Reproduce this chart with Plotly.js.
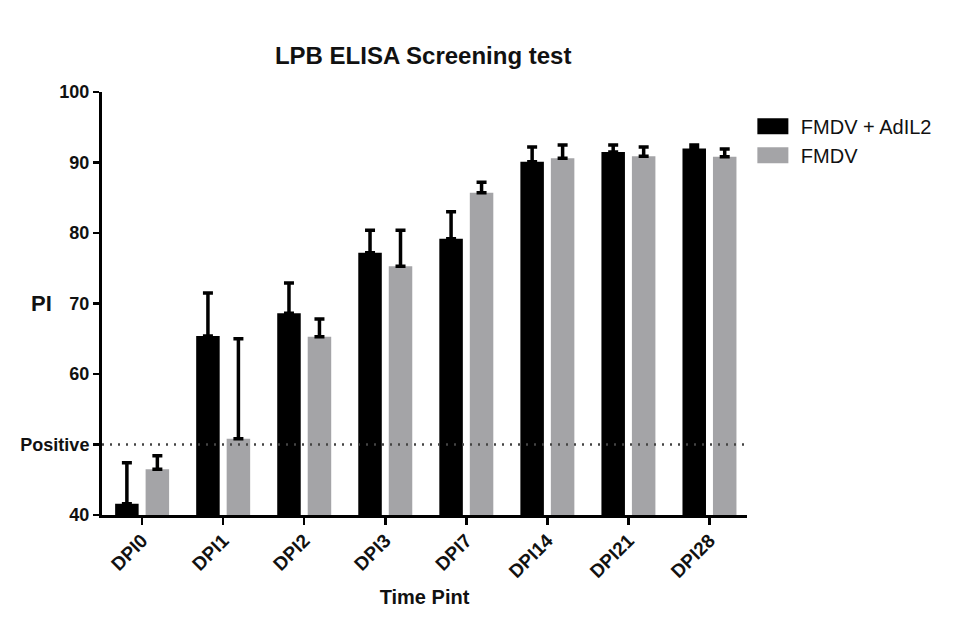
<!DOCTYPE html>
<html>
<head>
<meta charset="utf-8">
<script src="https://cdn.plot.ly/plotly-3.0.1.min.js"></script>
<style>html,body{margin:0;padding:0;background:#fff;}#chart{width:959px;height:635px;}</style>
</head>
<body>
<div id="chart"></div>
<script>
const categories = ["DPI0","DPI1","DPI2","DPI3","DPI7","DPI14","DPI21","DPI28"];
const seriesNames = ["FMDV + AdIL2","FMDV"];
const adil2Values = [41.6, 65.4, 68.6, 77.2, 79.2, 90.1, 91.5, 92.0];
const adil2Errors = [5.8, 6.1, 4.3, 3.2, 3.8, 2.1, 1.0, 0.5];
const fmdvValues = [46.5, 50.8, 65.3, 75.3, 85.7, 90.6, 90.9, 90.8];
const fmdvErrors = [1.9, 14.2, 2.5, 5.1, 1.5, 1.9, 1.3, 1.1];
const yTickVals = [40, 50, 60, 70, 80, 90, 100];
const yTickText = ["40", "Positive", "60", "70", "80", "90", "100"];
const positiveCutoff = 50;

const font = "Liberation Sans, Arial, sans-serif";
const zeros = categories.map(() => 0);

const traces = [
  {
    type: "bar", name: seriesNames[0], x: categories, y: adil2Values,
    marker: {color: "#000000", line: {width: 0}},
    width: 0.29, offset: -0.333,
    error_y: {type: "data", symmetric: false, array: adil2Errors, arrayminus: zeros,
              color: "#000000", thickness: 3.5, width: 5}
  },
  {
    type: "bar", name: seriesNames[1], x: categories, y: fmdvValues,
    marker: {color: "#a4a4a7", line: {width: 0}},
    width: 0.29, offset: 0.043,
    error_y: {type: "data", symmetric: false, array: fmdvErrors, arrayminus: zeros,
              color: "#000000", thickness: 3.5, width: 5}
  }
];

const layout = {
  width: 959, height: 635,
  margin: {l: 102, r: 212, t: 92, b: 120},
  paper_bgcolor: "#ffffff", plot_bgcolor: "#ffffff",
  barmode: "group",
  showlegend: true,
  title: {text: "<b>LPB ELISA Screening test</b>", xref: "paper", x: 0.498, xanchor: "center",
          yref: "container", y: 0.913, yanchor: "middle",
          font: {family: font, size: 24, color: "#111"}},
  xaxis: {
    type: "category", range: [-0.495, 7.463],
    showgrid: false, zeroline: false,
    showline: true, linecolor: "#000", linewidth: 3,
    ticks: "outside", ticklen: 7, tickwidth: 2.5, tickcolor: "#000",
    tickangle: -45, ticklabelstandoff: -3,
    tickfont: {family: font, size: 19, color: "#111", weight: "bold"},
    title: {text: "<b>Time Pint</b>", font: {family: font, size: 20, color: "#111"}, standoff: 9}
  },
  yaxis: {
    range: [40, 100],
    tickvals: yTickVals, ticktext: yTickText,
    showgrid: false, zeroline: false,
    showline: true, linecolor: "#000", linewidth: 3,
    ticks: "outside", ticklen: 6, tickwidth: 2.5, tickcolor: "#000",
    tickfont: {family: font, size: 18, color: "#111", weight: "bold"}
  },
  legend: {
    x: 1.006, y: 0.965, xanchor: "left", yanchor: "top",
    font: {family: font, size: 20, color: "#111"},
    tracegroupgap: 0, itemwidth: 40, bgcolor: "rgba(0,0,0,0)"
  },
  shapes: [
    {type: "line", xref: "paper", x0: 0, x1: 1, yref: "y", y0: positiveCutoff, y1: positiveCutoff,
     line: {color: "#444", width: 2.5, dash: "2px,6px"}}
  ],
  annotations: [
    {text: "<b>PI</b>", xref: "paper", yref: "paper", x: -0.094, y: 0.5, xanchor: "center", yanchor: "middle",
     showarrow: false, font: {family: font, size: 22, color: "#111"}}
  ]
};

Plotly.newPlot("chart", traces, layout, {displayModeBar: false, staticPlot: true}).then(function (gd) {
  // enlarge legend swatches to the wide rectangles of the reference
  gd.querySelectorAll(".legend .legendpoints path").forEach(function (p) {
    p.setAttribute("d", "M-18.5,-8h31v16h-31z");
  });
});
</script>
</body>
</html>
